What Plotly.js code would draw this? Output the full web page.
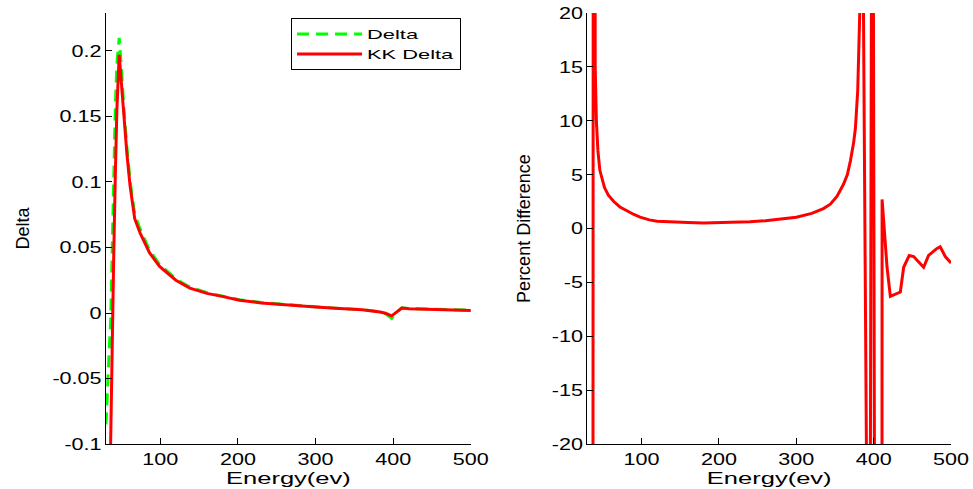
<!DOCTYPE html>
<html>
<head>
<meta charset="utf-8">
<script src="https://cdn.plot.ly/plotly-3.0.1.min.js"></script>
<style>
  html, body { margin: 0; padding: 0; background: #fff; }
  #chart { width: 973px; height: 489px; }
</style>
</head>
<body>
<div id="chart"></div>
<script>
// Photon energy grid (eV) for the two delta curves
const energy = [30, 32, 34, 36, 38, 40, 42, 44, 47, 50, 53, 57, 61, 67, 74, 86, 99, 120, 138, 160,
                181, 202, 230, 267, 300, 331, 360, 383, 390, 398, 405, 411, 420, 450, 480, 500];

// Tabulated delta
const delta = [-0.085, -0.05, -0.03, -0.006, 0.055, 0.115, 0.158, 0.19, 0.21, 0.186, 0.156, 0.126,
               0.101, 0.075, 0.064, 0.048, 0.037, 0.026, 0.0198, 0.0155, 0.013, 0.0101, 0.008, 0.006,
               0.0047, 0.0035, 0.0026, 0.0008, -0.0005, -0.0042, 0.0008, 0.0039, 0.0034, 0.0029, 0.0025, 0.0021];

// Delta reconstructed through the Kramers-Kronig relation
const kkDelta = [null, null, -0.17, -0.09, -0.015, 0.045, 0.105, 0.155, 0.197, 0.175, 0.148, 0.121,
                 0.097, 0.072, 0.061, 0.046, 0.0356, 0.025, 0.019, 0.015, 0.0125, 0.0097, 0.0077, 0.0058,
                 0.0045, 0.0034, 0.0024, 0.0008, -0.0002, -0.0022, 0.0012, 0.0038, 0.0033, 0.0028, 0.0024, 0.002];

// Percent difference between the two, on its own energy grid
const pdEnergy = [31, 36.5, 38, 40, 41.5, 43.5, 46, 48, 52, 57, 64, 72, 82, 90, 98, 110, 120, 140, 160,
                  180, 200, 220, 240, 260, 280, 300, 320, 335, 344, 352.7, 361, 366, 370, 374, 376.4, 379.4,
                  382, 384.5, 392, 394, 398.4, 402.8, 410.3, 410.9, 417.3, 421.6, 434.5, 438.8, 446, 451.7,
                  464.6, 471, 481.9, 486, 492.6, 500];
const percentDiff = [-60, -150, 150, 15, 10, 7.2, 5.4, 4.9, 3.8, 3.1, 2.5, 2.0, 1.6, 1.3, 1.05, 0.8, 0.68,
                     0.6, 0.56, 0.52, 0.55, 0.57, 0.62, 0.72, 0.85, 1.05, 1.4, 1.85, 2.26, 3.0, 4.1, 5.0, 6.3,
                     7.9, 9.3, 12.8, 19.9, 45, -35, -80, 64, -80, -150, 2.7, -3.6, -6.3, -5.9, -3.6, -2.5,
                     -2.6, -3.6, -2.5, -1.85, -1.7, -2.6, -3.2];

// Axis ticks and their labels
const energyTicks = [100, 200, 300, 400, 500];
const energyTickText = ['100', '200', '300', '400', '500'];
const deltaTicks = [-0.1, -0.05, 0, 0.05, 0.1, 0.15, 0.2];
const deltaTickText = ['-0.1', '-0.05', '0', '0.05', '0.1', '0.15', '0.2'];
const pdTicks = [-20, -15, -10, -5, 0, 5, 10, 15, 20];
const pdTickText = ['-20', '-15', '-10', '-5', '0', '5', '10', '15', '20'];

const seriesNames = ['Delta', 'KK Delta'];

const family = 'Liberation Sans, Arial, Helvetica, sans-serif';
const font = { family: family, size: 17, color: '#000' };
const yTitleFont = { family: family, size: 18, color: '#000' };

const axisBase = {
  showline: true, linecolor: '#000', linewidth: 1, mirror: false,
  showgrid: false, zeroline: false,
  ticks: 'inside', ticklen: 6, tickwidth: 1, tickcolor: '#000',
  tickfont: font, automargin: false, tickmode: 'array'
};

const traces = [
  { type: 'scatter', mode: 'lines', x: energy, y: delta, name: seriesNames[0],
    line: { color: '#00ff00', width: 3, dash: '12px,7px' }, xaxis: 'x', yaxis: 'y' },
  { type: 'scatter', mode: 'lines', x: energy, y: kkDelta, name: seriesNames[1],
    line: { color: '#ff0000', width: 3 }, xaxis: 'x', yaxis: 'y' },
  { type: 'scatter', mode: 'lines', x: pdEnergy, y: percentDiff, name: 'Percent Difference',
    showlegend: false, line: { color: '#ff0000', width: 3 }, xaxis: 'x2', yaxis: 'y2' }
];

const layout = {
  width: 973, height: 489,
  margin: { l: 106, r: 22, t: 13, b: 45, pad: 0 },
  paper_bgcolor: '#fff', plot_bgcolor: '#fff',
  font: font,
  showlegend: true,
  legend: {
    x: 0.219, y: 0.988, xanchor: 'left', yanchor: 'top',
    bgcolor: '#fff', bordercolor: '#000', borderwidth: 1,
    font: { family: family, size: 13, color: '#000' },
    itemwidth: 65
  },
  xaxis: Object.assign({}, axisBase, {
    domain: [0, 0.4318], range: [30, 500], anchor: 'y',
    tickvals: energyTicks, ticktext: energyTickText,
    title: { text: 'Energy(ev)', font: font, standoff: 1 }
  }),
  yaxis: Object.assign({}, axisBase, {
    range: [-0.1, 0.229], anchor: 'x',
    tickvals: deltaTicks, ticktext: deltaTickText,
    title: { text: 'Delta', font: yTitleFont, standoff: 28 }
  }),
  xaxis2: Object.assign({}, axisBase, {
    domain: [0.5698, 1], range: [30, 500], anchor: 'y2',
    tickvals: energyTicks, ticktext: energyTickText,
    title: { text: 'Energy(ev)', font: font, standoff: 1 }
  }),
  yaxis2: Object.assign({}, axisBase, {
    range: [-20, 20], anchor: 'x2',
    tickvals: pdTicks, ticktext: pdTickText,
    title: { text: 'Percent Difference', font: yTitleFont, standoff: 23 }
  })
};

// Horizontal labels are set in a wide face: stretch each glyph run by a factor
function widen(nodes, k) {
  let extra = 0;
  nodes.forEach(function (t) {
    const w = t.getComputedTextLength();
    t.setAttribute('textLength', (w * k).toFixed(1));
    t.setAttribute('lengthAdjust', 'spacingAndGlyphs');
    extra = Math.max(extra, w * (k - 1));
  });
  return extra;
}

Plotly.newPlot('chart', traces, layout, { staticPlot: true, displayModeBar: false }).then(function (gd) {
  widen(gd.querySelectorAll('.xtick text, .x2tick text, .ytick text, .y2tick text'), 1.27);
  widen(gd.querySelectorAll('.g-xtitle text, .g-x2title text'), 1.5);
  const extra = widen(gd.querySelectorAll('.legend text.legendtext'), 1.68);
  // grow the legend frame so the wider entries still fit
  gd.querySelectorAll('.legend rect.bg').forEach(function (r) {
    r.setAttribute('width', (parseFloat(r.getAttribute('width')) + extra).toFixed(1));
  });
  document.querySelectorAll('clipPath[id^="legend"] rect').forEach(function (r) {
    r.setAttribute('width', (parseFloat(r.getAttribute('width')) + extra).toFixed(1));
  });
});
</script>
</body>
</html>
